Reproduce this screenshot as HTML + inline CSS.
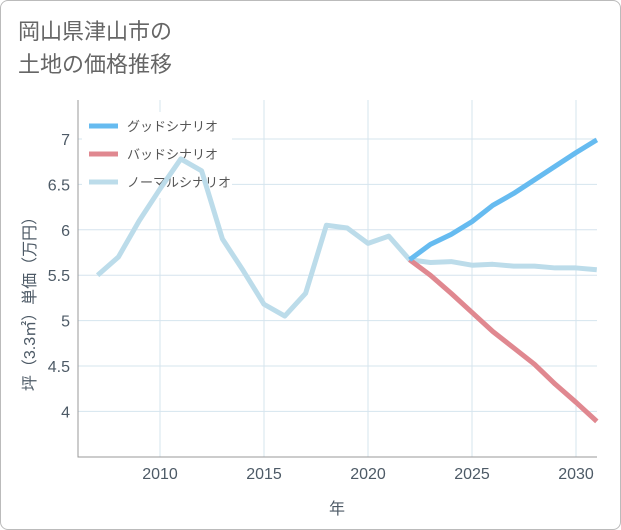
<!DOCTYPE html>
<html><head><meta charset="utf-8"><style>
body{margin:0;background:#fff;font-family:"Liberation Sans","Noto Sans CJK JP",sans-serif;}
#wrap{position:relative;width:619px;height:528px;border:1px solid #bbb;border-radius:8px;background:#fff;overflow:hidden;}
#title{position:absolute;left:17px;top:14px;font-size:22px;line-height:33px;color:#666;}
svg text{font-family:"Liberation Sans","Noto Sans CJK JP",sans-serif;}
</style></head><body>
<div id="wrap">
<div id="title">岡山県津山市の<br>土地の価格推移</div>
<svg id="c" width="621" height="530" style="position:absolute;left:-1px;top:-1px"></svg>
</div>
<script>
const years=[2007,2008,2009,2010,2011,2012,2013,2014,2015,2016,2017,2018,2019,2020,2021,2022,2023,2024,2025,2026,2027,2028,2029,2030,2031];
const normal=[5.5,5.7,6.1,6.45,6.78,6.65,5.9,5.55,5.18,5.05,5.3,6.05,6.02,5.85,5.93,5.67,5.64,5.65,5.61,5.62,5.6,5.6,5.58,5.58,5.56];
const futureYears=[2022,2023,2024,2025,2026,2027,2028,2029,2030,2031];
const good=[5.67,5.84,5.95,6.09,6.27,6.4,6.55,6.7,6.85,6.99];
const bad=[5.67,5.5,5.3,5.09,4.88,4.7,4.52,4.3,4.1,3.89];
const xTicks=[2010,2015,2020,2025,2030];
const yTicks=[4,4.5,5,5.5,6,6.5,7];
const L=78,R=597,T=100,B=457;
const x=v=>160+(v-2010)*20.8;
const y=v=>139+(7-v)*90.8;
const svg=document.getElementById('c');
const NS='http://www.w3.org/2000/svg';
function mk(t,a,p){const e=document.createElementNS(NS,t);for(const k in a)e.setAttribute(k,a[k]);(p||svg).appendChild(e);return e;}
const grid=mk('g',{});


xTicks.forEach(v=>{
 const l=mk('line',{x1:x(v),x2:x(v),y1:T,y2:B,stroke:'#d5e4ee','stroke-width':1},grid);
 
 
 const t=mk('text',{x:x(v),y:B+22,'text-anchor':'middle','font-size':16,fill:'#4d5a66'});
 t.textContent=v;
 
 
});
yTicks.forEach(v=>{
 const l=mk('line',{x1:L,x2:R,y1:y(v),y2:y(v),stroke:'#d5e4ee','stroke-width':1},grid);
 
 
 const t=mk('text',{x:L-8,y:y(v)+6,'text-anchor':'end','font-size':16,fill:'#4d5a66'});
 t.textContent=v;
 
 
});
const ax=mk('path',{d:`M${L} ${T} V${B} H${R}`,fill:'none',stroke:'#999','stroke-width':1});


const leg=mk('g',{});


mk('rect',{x:82,y:112,width:150,height:86,fill:'#fff'},leg);
[['グッドシナリオ','#66bbf0'],['バッドシナリオ','#e08890'],['ノーマルシナリオ','#bcdcea']].forEach((d,i)=>{
 const yy=126+i*28;
 const s=mk('line',{x1:89,x2:118,y1:yy,y2:yy,stroke:d[1],'stroke-width':5},leg);
 
 
 const t=mk('text',{x:127,y:yy+5,'font-size':13,fill:'#555'},leg);
 t.textContent=d[0];
 
 
});
function line(xs,vs,col,name){
 const p=mk('polyline',{points:xs.map((v,i)=>x(v)+','+y(vs[i])).join(' '),fill:'none',stroke:col,'stroke-width':5,'stroke-linejoin':'round'});
 
 
}
line(years,normal,'#bcdcea','normal-scenario-line');
line(futureYears,bad,'#e08890','bad-scenario-line');
line(futureYears,good,'#66bbf0','good-scenario-line');
const xt=mk('text',{x:337,y:514,'text-anchor':'middle','font-size':16,fill:'#4d5a66'});
xt.textContent='年';


const yt=mk('text',{x:0,y:0,'text-anchor':'middle','font-size':16,fill:'#4d5a66',transform:'translate(35 300) rotate(-90)'});
yt.textContent='坪（3.3㎡）単価（万円）';


</script>
</body></html>
